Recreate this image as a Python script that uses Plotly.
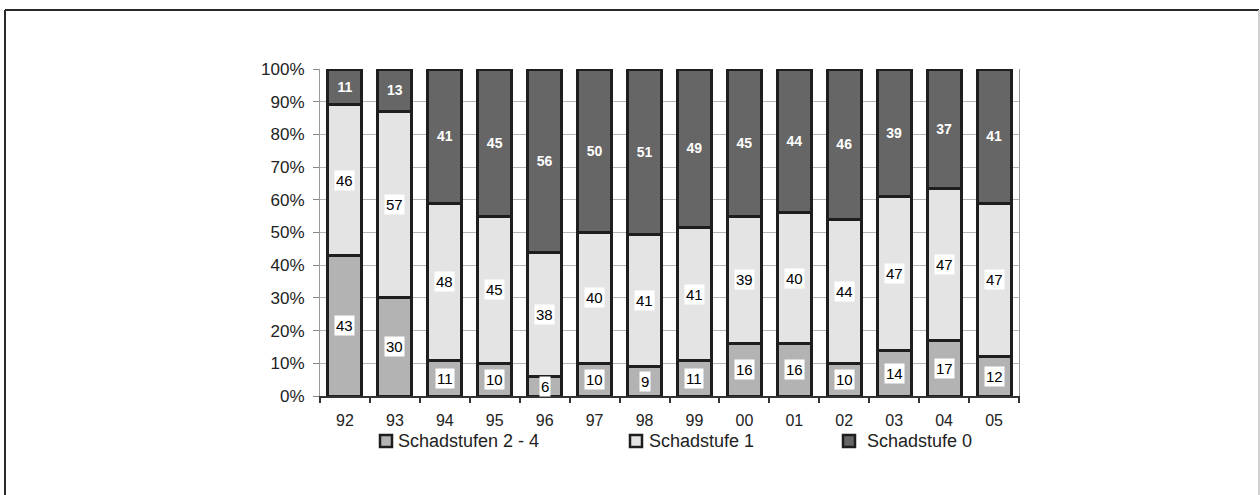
import plotly.graph_objects as go

# Kronenschäden je Aufnahmejahr, Anteile in %
years = ["92", "93", "94", "95", "96", "97", "98", "99", "00", "01", "02", "03", "04", "05"]
stufen_2_4 = [43, 30, 11, 10, 6, 10, 9, 11, 16, 16, 10, 14, 17, 12]
stufe_1 = [46, 57, 48, 45, 38, 40, 41, 41, 39, 40, 44, 47, 47, 47]
stufe_0 = [11, 13, 41, 45, 56, 50, 51, 49, 45, 44, 46, 39, 37, 41]

names = ["Schadstufen 2 - 4", "Schadstufe 1", "Schadstufe 0"]
series = [stufen_2_4, stufe_1, stufe_0]
colors = ["#b3b3b3", "#e4e4e4", "#666666"]

FONT = "Liberation Sans, Arial, sans-serif"
OUTLINE = "#1e1e1e"

W, H = 1260, 495
ML, MR, MT, MB = 320, 241, 69, 99
PW, PH = W - ML - MR, H - MT - MB


def px_x(px):
    return (px - ML) / PW


def px_y(py):
    return (H - MB - py) / PH


fig = go.Figure()
for name, vals, col in zip(names, series, colors):
    is_top = name == "Schadstufe 0"
    fig.add_trace(go.Bar(
        x=years, y=vals, name=name,
        marker=dict(color=col, line=dict(color=OUTLINE, width=3)),
        text=[str(v) for v in vals] if is_top else None,
        textposition="inside" if is_top else "none",
        insidetextanchor="middle",
        textangle=0,
        textfont=dict(family=FONT, size=14, color="white", weight="bold"),
        constraintext="none",
        showlegend=False,
        hoverinfo="skip",
    ))

# value labels with white boxes for the lower two segments
# (category positions given by index so "00".."05" are not read as numbers)
annotations = []
for i, yr in enumerate(years):
    total = sum(s[i] for s in series)
    base = 0.0
    for k, vals in enumerate(series[:2]):
        h = vals[i] / total * 100
        annotations.append(dict(
            x=i, y=base + h / 2, xref="x", yref="y",
            text=str(vals[i]), showarrow=False,
            font=dict(family=FONT, size=15, color="black"),
            bgcolor="white", borderpad=1,
        ))
        base += h

# legend row below the category axis
legend_items = [(386, 396), (636, 647), (849, 865)]
shapes = []
for (sx, tx), name, col in zip(legend_items, names, colors):
    shapes.append(dict(
        type="rect", xref="paper", yref="paper",
        x0=px_x(sx - 6), x1=px_x(sx + 6), y0=px_y(447), y1=px_y(435),
        fillcolor=col, line=dict(color=OUTLINE, width=2.5),
    ))
    annotations.append(dict(
        x=px_x(tx), y=px_y(441), xref="paper", yref="paper",
        xanchor="left", yanchor="middle", text=name, showarrow=False,
        font=dict(family=FONT, size=18, color="#222"),
    ))

# outer frame
shapes += [
    dict(type="line", xref="paper", yref="paper",
         x0=px_x(5), x1=px_x(1259), y0=px_y(10), y1=px_y(10),
         line=dict(color="#2a2a2a", width=2)),
    dict(type="line", xref="paper", yref="paper",
         x0=px_x(5), x1=px_x(5), y0=px_y(10), y1=px_y(500),
         line=dict(color="#2a2a2a", width=2)),
    dict(type="line", xref="paper", yref="paper",
         x0=px_x(1259), x1=px_x(1259), y0=px_y(10), y1=px_y(500),
         line=dict(color="#cfcfcf", width=2)),
]

fig.update_layout(
    width=W, height=H,
    margin=dict(l=ML, r=MR, t=MT, b=MB),
    barmode="stack", barnorm="percent", bargap=0.32,
    plot_bgcolor="white", paper_bgcolor="white",
    font=dict(family=FONT, color="#222"),
    annotations=annotations, shapes=shapes,
    showlegend=False,
)
fig.update_xaxes(
    type="category", categoryorder="array", categoryarray=years,
    range=[-0.5, len(years) - 0.5],
    tickson="boundaries", ticks="outside", ticklen=5, ticklabelstandoff=9,
    tickcolor="#333", tickwidth=1.5, showline=True, linecolor="#333", linewidth=1.5,
    tickfont=dict(family=FONT, size=16, color="#222"), showgrid=False,
)
fig.update_yaxes(
    range=[0, 100], dtick=10, ticksuffix="%", ticks="outside", ticklen=6,
    ticklabelstandoff=5,
    tickcolor="#888", showline=True, mirror=True, linecolor="#999", linewidth=1.2,
    showgrid=True, gridcolor="#b5b5b5", gridwidth=1.2,
    tickfont=dict(family=FONT, size=17, color="#222"), zeroline=False,
)

fig.write_html("out.html")
